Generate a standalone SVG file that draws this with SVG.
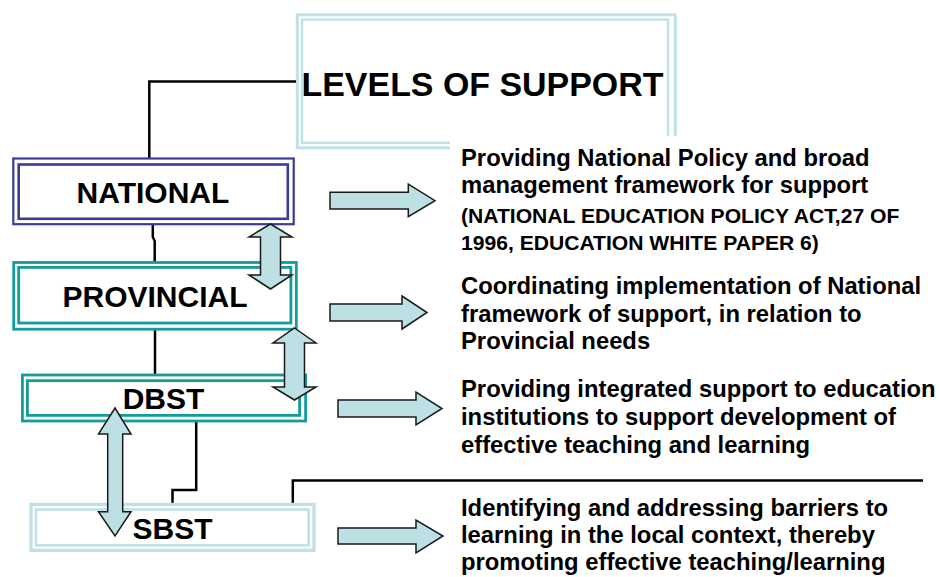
<svg xmlns="http://www.w3.org/2000/svg" width="940" height="577" viewBox="0 0 940 577">
  <style>
    .lbl { font-family: "Liberation Sans", Arial, sans-serif; font-weight: bold; fill: #000; }
    .lvl { font-size: 30px; text-anchor: middle; }
    .desc { font-size: 23.8px; }
    .desc-sm { font-size: 21.1px; }
    .conn { fill: none; stroke: #000; stroke-width: 2.5; }
    .arrow { fill: #BCE0E3; stroke: #1a1a1a; stroke-width: 1.5; stroke-linejoin: miter; }
    .navy { fill: none; stroke: #3B3B9B; }
    .teal { fill: none; stroke: #149C9C; stroke-width: 2.8; }
    .pale { fill: none; stroke: #BFE2E5; }
  </style>

  <rect width="940" height="577" fill="#fff"/>

  <!-- title frame -->
  <g id="title">
    <rect class="pale" x="297.3" y="14.8" width="378" height="133" stroke-width="3"/>
    <rect class="pale" x="302" y="19.5" width="366" height="123.3" stroke-width="2.4"/>
    <text class="lbl" x="301.5" y="96" font-size="34" textLength="362" lengthAdjust="spacingAndGlyphs">LEVELS OF SUPPORT</text>
  </g>

  <!-- connectors -->
  <g id="connectors">
    <polyline class="conn" points="296,81.5 149.3,81.5 149.3,158"/>
    <polyline class="conn" points="137,222 152.8,222 152.8,237 154.7,241 154.7,264"/>
    <line class="conn" x1="155" y1="329" x2="155" y2="375"/>
    <polyline class="conn" points="196.2,420 196.2,490 172.5,490 172.5,503"/>
    <polyline class="conn" points="292.8,506 292.8,480.5 923,480.5"/>
  </g>

  <!-- level boxes -->
  <g id="national">
    <rect x="13" y="158" width="281" height="67" fill="#fff"/>
    <rect class="navy" x="13.3" y="158.5" width="280.4" height="65.7" stroke-width="2.2"/>
    <rect class="navy" x="18.7" y="164.5" width="269.1" height="54.3" stroke-width="2.6"/>
    <text class="lbl lvl" x="153" y="203">NATIONAL</text>
  </g>

  <g id="provincial">
    <rect x="13" y="262" width="284" height="68" fill="#fff"/>
    <rect class="teal" x="13.7" y="262.5" width="282.6" height="66.7"/>
    <rect class="teal" x="18.7" y="267.4" width="272.2" height="55.6"/>
    <text class="lbl lvl" x="155" y="307">PROVINCIAL</text>
  </g>

  <g id="dbst">
    <rect x="22" y="374" width="285" height="48" fill="#fff"/>
    <rect class="teal" x="22.4" y="375" width="283.2" height="46" stroke-width="3.2"/>
    <rect class="teal" x="27.4" y="380.7" width="272.2" height="34.7"/>
    <text class="lbl lvl" x="163.5" y="409">DBST</text>
  </g>

  <g id="sbst">
    <rect x="30" y="504" width="285" height="47" fill="#fff"/>
    <rect class="pale" x="31" y="504.4" width="283" height="45.9" stroke-width="3.3"/>
    <rect class="pale" x="36" y="509.5" width="272.6" height="35.8" stroke-width="2.6"/>
    <text class="lbl lvl" x="172.5" y="539">SBST</text>
  </g>

  <!-- descriptions -->
  <g id="national-desc">
    <rect x="450" y="136" width="490" height="122" fill="#fff"/>
    <text class="lbl desc" x="461" y="166">Providing National Policy and broad</text>
    <text class="lbl desc" x="461" y="193">management framework for support</text>
    <text class="lbl desc-sm" x="461" y="223">(NATIONAL EDUCATION POLICY ACT,27 OF</text>
    <text class="lbl desc-sm" x="461" y="250">1996, EDUCATION WHITE PAPER 6)</text>
  </g>

  <g id="provincial-desc">
    <text class="lbl desc" x="461" y="294">Coordinating implementation of National</text>
    <text class="lbl desc" x="461" y="322">framework of support, in relation to</text>
    <text class="lbl desc" x="461" y="349">Provincial needs</text>
  </g>

  <g id="dbst-desc">
    <text class="lbl desc" x="461" y="397">Providing integrated support to education</text>
    <text class="lbl desc" x="461" y="425">institutions to support development of</text>
    <text class="lbl desc" x="461" y="453">effective teaching and learning</text>
  </g>

  <g id="sbst-desc">
    <text class="lbl desc" x="461" y="516">Identifying and addressing barriers to</text>
    <text class="lbl desc" x="461" y="543">learning in the local context, thereby</text>
    <text class="lbl desc" x="461" y="570">promoting effective teaching/learning</text>
  </g>

  <!-- block arrows -->
  <g id="arrows">
    <path class="arrow" d="M330,192.3 H408.3 V184 L435,200.7 L408.3,216.7 V209 H330 Z"/>
    <path class="arrow" d="M330,304 H402 V296 L427,312.5 L402,329 V321 H330 Z"/>
    <path class="arrow" d="M338,400 H416 V392 L442,408.5 L416,425 V417 H338 Z"/>
    <path class="arrow" d="M338,528 H416 V520 L443,536 L416,553 V544 H338 Z"/>

    <path class="arrow" d="M270.5,224 L292,237 H280.5 V275 H292 L270.5,289 L249,275 H260.5 V237 H249 Z"/>
    <path class="arrow" d="M294.5,328 L316,343 H304.5 V387 H316 L294.5,400 L273,387 H284.5 V343 H273 Z"/>
    <path class="arrow" d="M115,408 L131,434 H122.7 V511.7 H131 L115,536 L98.5,511.7 H107.7 V434 H98.5 Z"/>
  </g>
</svg>
